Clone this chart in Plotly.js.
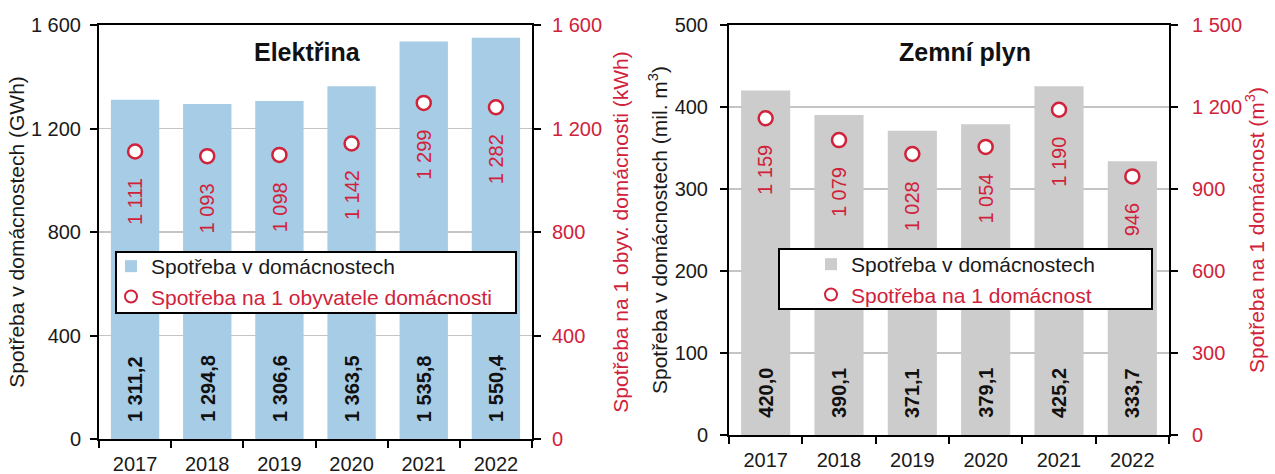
<!DOCTYPE html>
<html>
<head>
<meta charset="utf-8">
<script src="https://cdn.plot.ly/plotly-3.0.1.min.js"></script>
<style>html,body{margin:0;padding:0;background:#fff}#chart{width:1275px;height:474px}</style>
</head>
<body>
<div id="chart"></div>
<script>
// ---- data ----
const years = ['2017', '2018', '2019', '2020', '2021', '2022'];
const elecTotal = [1311.2, 1294.8, 1306.6, 1363.5, 1535.8, 1550.4];   // GWh
const elecPerPerson = [1111, 1093, 1098, 1142, 1299, 1282];           // kWh
const gasTotal = [420.0, 390.1, 371.1, 379.1, 425.2, 333.7];          // mil. m3
const gasPerHousehold = [1159, 1079, 1028, 1054, 1190, 946];          // m3

const elecTitle = 'Elektřina';
const gasTitle = 'Zemní plyn';
const nameTotal = 'Spotřeba v domácnostech';
const nameElecPer = 'Spotřeba na 1 obyvatele domácnosti';
const nameGasPer = 'Spotřeba na 1 domácnost';
const elecYTitle = 'Spotřeba v domácnostech (GWh)';
const elecY2Title = 'Spotřeba na 1 obyv. domácnosti (kWh)';
const gasYTitle = 'Spotřeba v domácnostech (mil. m<sup>3</sup>)';
const gasY2Title = 'Spotřeba na 1 domácnost (m<sup>3</sup>)';

// ---- style ----
const FONT = 'Liberation Sans, Arial, sans-serif';
const RED = '#d0223a';
const DARK = '#1a1a1a';
const BLUE = '#a7cce6';
const GREY = '#cccccc';
const W = 1275, H = 474;

function fmt(v, dec) {
  const s = v.toFixed(dec);
  const parts = s.split('.');
  const intPart = parts[0].replace(/\B(?=(\d{3})+(?!\d))/g, ' ');
  return parts.length > 1 ? intPart + ',' + parts[1] : intPart;
}

const traces = [
  {type: 'bar', x: years, y: elecTotal, xaxis: 'x', yaxis: 'y', name: nameTotal,
   marker: {color: BLUE}, legend: 'legend'},
  {type: 'scatter', mode: 'markers', x: years, y: elecPerPerson, xaxis: 'x', yaxis: 'y2',
   name: '<span style="color:' + RED + '">' + nameElecPer + '</span>', legend: 'legend',
   marker: {symbol: 'circle', size: 14, color: '#ffffff', line: {color: RED, width: 2.5}}},
  {type: 'bar', x: years, y: gasTotal, xaxis: 'x2', yaxis: 'y3', name: nameTotal,
   marker: {color: GREY}, legend: 'legend2'},
  {type: 'scatter', mode: 'markers', x: years, y: gasPerHousehold, xaxis: 'x2', yaxis: 'y4',
   name: '<span style="color:' + RED + '">' + nameGasPer + '</span>', legend: 'legend2',
   marker: {symbol: 'circle', size: 14, color: '#ffffff', line: {color: RED, width: 2.5}}}
];

const annotations = [];
function addLabels(xref, yref, y2ref, totals, pers) {
  years.forEach((yr, i) => {
    annotations.push({xref: xref, yref: yref, x: i, y: 0, text: fmt(totals[i], 1),
      textangle: -90, showarrow: false, yanchor: 'bottom', xanchor: 'center', yshift: 15,
      font: {family: FONT, size: 20, color: '#111', weight: 700}});
    annotations.push({xref: xref, yref: y2ref, x: i, y: pers[i], text: fmt(pers[i], 0),
      textangle: -90, showarrow: false, yanchor: 'top', xanchor: 'center', yshift: -25,
      font: {family: FONT, size: 20, color: RED}});
  });
}
addLabels('x', 'y', 'y2', elecTotal, elecPerPerson);
addLabels('x2', 'y3', 'y4', gasTotal, gasPerHousehold);

annotations.push({xref: 'paper', yref: 'paper', x: 307 / W, y: 1 - 52 / H, text: elecTitle,
  showarrow: false, xanchor: 'center', yanchor: 'middle',
  font: {family: FONT, size: 25, color: '#111', weight: 700}});
annotations.push({xref: 'paper', yref: 'paper', x: 965 / W, y: 1 - 52 / H, text: gasTitle,
  showarrow: false, xanchor: 'center', yanchor: 'middle',
  font: {family: FONT, size: 25, color: '#111', weight: 700}});

const xCommon = {
  type: 'category', range: [-0.5, years.length - 0.5], autorange: false,
  showline: true, linecolor: '#000', linewidth: 2, mirror: true,
  ticks: 'outside', tickson: 'boundaries', ticklen: 7, tickwidth: 2, tickcolor: '#000',
  showgrid: false, zeroline: false, ticklabelstandoff: 6, tickangle: 0,
  tickfont: {family: FONT, size: 20, color: DARK}, fixedrange: true
};
function yLeft(range, dtick, title, lblOff, titleOff) {
  return {range: range, autorange: false, dtick: dtick, tick0: 0, showline: true, linecolor: '#000', linewidth: 2,
    ticks: 'outside', ticklen: 7, tickwidth: 2, tickcolor: '#000', ticklabelstandoff: lblOff,
    showgrid: true, gridcolor: '#c4c4c4', gridwidth: 1.5, zeroline: false,
    separatethousands: true, tickfont: {family: FONT, size: 20, color: DARK},
    title: {text: title, font: {family: FONT, size: 21, color: DARK}, standoff: titleOff}};
}
function yRight(range, dtick, title, over, anchor, lblOff, titleOff) {
  return {range: range, autorange: false, dtick: dtick, tick0: 0, overlaying: over, side: 'right', anchor: anchor,
    showline: true, linecolor: '#000', linewidth: 2,
    ticks: 'outside', ticklen: 7, tickwidth: 2, tickcolor: '#000', ticklabelstandoff: lblOff,
    showgrid: false, zeroline: false, separatethousands: true,
    tickfont: {family: FONT, size: 20, color: RED},
    title: {text: title, font: {family: FONT, size: 21, color: RED}, standoff: titleOff}};
}

function legendBox(x0, x1, y0, y1) {
  return {type: 'rect', xref: 'paper', yref: 'paper', x0: x0 / W, x1: x1 / W,
    y0: 1 - y1 / H, y1: 1 - y0 / H, fillcolor: '#ffffff',
    line: {color: '#000', width: 2}, layer: 'above'};
}
function legendCfg(x, y) {
  return {x: x / W, y: 1 - y / H, xanchor: 'left', yanchor: 'top', bgcolor: 'rgba(0,0,0,0)',
    borderwidth: 0, itemsizing: 'constant', tracegroupgap: 0,
    font: {family: FONT, size: 21, color: DARK}};
}

const layout = {
  width: W, height: H,
  margin: {l: 0, r: 0, t: 0, b: 0},
  paper_bgcolor: '#fff', plot_bgcolor: 'rgba(0,0,0,0)',
  separators: ', ',
  bargap: 0.33,
  showlegend: true,
  font: {family: FONT, color: DARK},
  xaxis: Object.assign({}, xCommon, {domain: [99 / W, 532 / W], anchor: 'y'}),
  yaxis: Object.assign(yLeft([0, 1600], 400, elecYTitle, 5, 1), {domain: [35 / H, 449 / H], anchor: 'x'}),
  yaxis2: yRight([0, 1600], 400, elecY2Title, 'y', 'x', 7, 12),
  xaxis2: Object.assign({}, xCommon, {domain: [729 / W, 1169 / W], anchor: 'y3'}),
  yaxis3: Object.assign(yLeft([0, 500], 100, gasYTitle, 8, 1), {domain: [39 / H, 449 / H], anchor: 'x2'}),
  yaxis4: yRight([0, 1500], 300, gasY2Title, 'y3', 'x2', 10, 6),
  legend: legendCfg(111, 246),
  legend2: legendCfg(811, 244),
  shapes: [legendBox(116, 516, 252, 313), legendBox(779, 1152, 249, 309)],
  annotations: annotations
};

Plotly.newPlot('chart', traces, layout, {staticPlot: true, displayModeBar: false});
</script>
</body>
</html>
